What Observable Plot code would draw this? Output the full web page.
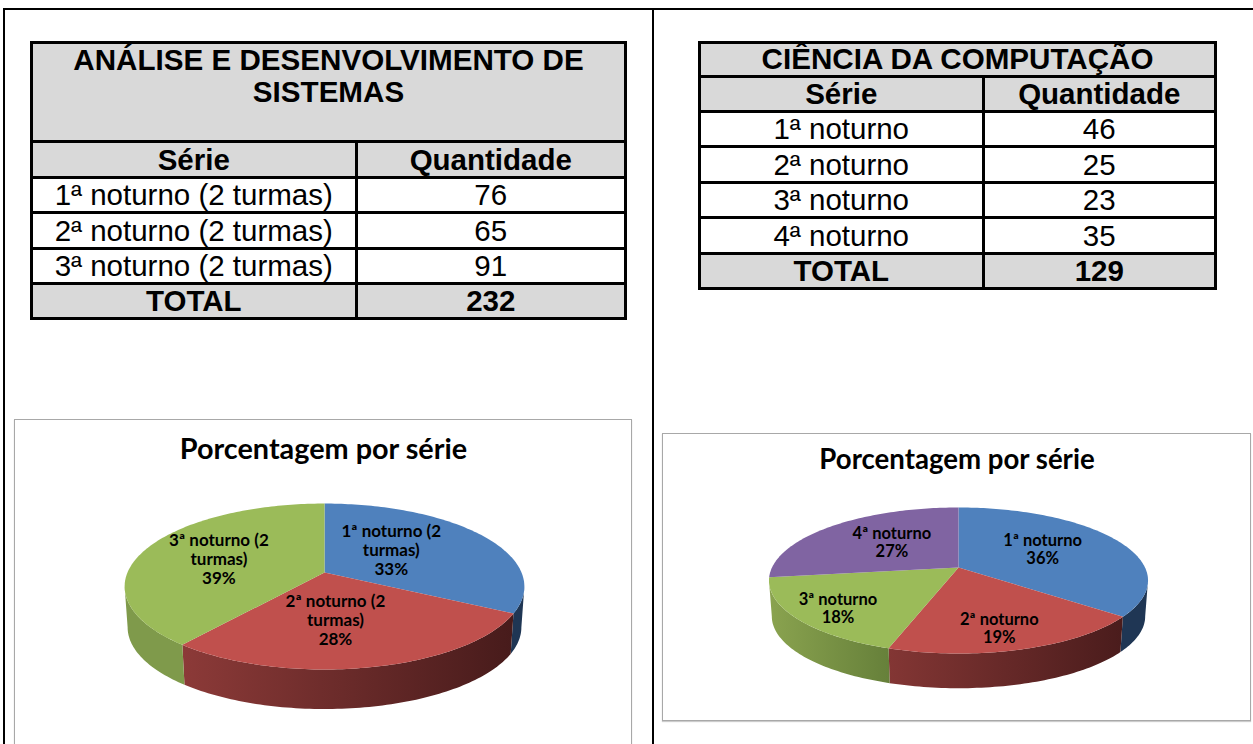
<!DOCTYPE html>
<html lang="pt">
<head>
<meta charset="utf-8">
<script src="https://cdn.jsdelivr.net/npm/d3@7"></script>
<script src="https://cdn.jsdelivr.net/npm/@observablehq/plot@0.6"></script>
<style>
html,body{margin:0;padding:0;background:#fff;width:1253px;height:744px;overflow:hidden;position:relative}
.rule{position:absolute;background:#000}
table{position:absolute;border-collapse:collapse;font-family:"Liberation Sans",Arial,sans-serif;color:#000;table-layout:fixed;border:3px solid #000}
td{border:3px solid #000;padding:0;text-align:center;font-size:29.5px;line-height:1;overflow:hidden}
tr.h td{background:#d9d9d9;font-weight:bold}
td.title{vertical-align:top;padding:0;font-size:29.6px}
.frame{position:absolute;box-sizing:border-box;border:1.5px solid #a8a8a8;background:#fff;box-shadow:0 1px 1px #ccc}
.pie{position:absolute}
.pie svg{display:block;background:transparent;overflow:visible}
</style>
</head>
<body>
<div class="rule" style="left:3px;top:8px;width:1250px;height:2px"></div>
<div class="rule" style="left:3px;top:8px;width:2px;height:736px"></div>
<div class="rule" style="left:652px;top:8px;width:2px;height:736px"></div>
<div id="root"></div>
<script>
// ---- data ----
const adsTitle = "ANÁLISE E DESENVOLVIMENTO DE SISTEMAS";
const adsSeries = ["1ª noturno (2 turmas)", "2ª noturno (2 turmas)", "3ª noturno (2 turmas)"];
const adsValues = [76, 65, 91];
const adsTotal = 232;

const ccTitle = "CIÊNCIA DA COMPUTAÇÃO";
const ccSeries = ["1ª noturno", "2ª noturno", "3ª noturno", "4ª noturno"];
const ccValues = [46, 25, 23, 35];
const ccTotal = 129;

const headers = ["Série", "Quantidade"];
const totalLabel = "TOTAL";
const chartTitle = "Porcentagem por série";

// ---- styling ----
const topColors = ["#4f81bd", "#c0504d", "#9bbb59", "#8064a2"];

const root = d3.select("#root");

function table(o) {
  const t = root.append("table").style("left", o.left + "px").style("top", o.top + "px")
    .style("width", o.width + "px").style("height", o.rows.reduce((a, b) => a + b, 0) + "px");
  const cg = t.append("colgroup");
  o.cols.forEach(c => cg.append("col").style("width", c + "px"));
  let r = 0;
  const row = (cls) => t.append("tr").attr("class", cls).style("height", o.rows[r++] + "px");
  row("h").append("td").attr("colspan", 2).attr("class", "title").style("line-height", o.titleLH + "px").text(o.title);
  const hr = row("h"); headers.forEach(h => hr.append("td").text(h));
  o.series.forEach((s, i) => { const tr = row(""); tr.append("td").text(s); tr.append("td").text(o.values[i]); });
  const f = row("h"); f.append("td").text(totalLabel); f.append("td").text(o.total);
}

table({left: 30, top: 41, width: 594, cols: [324.5, 269.5], rows: [99, 36, 35, 36, 35, 35], titleLH: 32,
  title: adsTitle, series: adsSeries, values: adsValues, total: adsTotal});
table({left: 698, top: 41, width: 516, cols: [283.5, 232.5], rows: [34, 35, 35, 36, 35, 36, 35], titleLH: 30,
  title: ccTitle, series: ccSeries, values: ccValues, total: ccTotal});

function pie(o) {
  root.append("div").attr("class", "frame").style("left", o.left + "px").style("top", o.top + "px")
    .style("width", o.width + "px").style("height", o.frameH + "px");

  const total = d3.sum(o.values);
  const project = (a, shrink = 1, drop = 0) => {
    const u = Math.sin(a), v = -Math.cos(a), s = 1 / (1 - o.k * v);
    return {x: u * s * shrink, y: v * s * shrink + drop};
  };
  const depth = o.depth / o.B;
  // the side wall is only visible between the two silhouette points of the rim
  const silR = Math.acos(-o.k), silL = 2 * Math.PI - silR;
  let acc = 0;
  const slices = o.values.map((val, i) => {
    const a0 = acc / total * 2 * Math.PI; acc += val;
    const a1 = acc / total * 2 * Math.PI;
    return {i, val, a0, a1, name: o.series[i]};
  });
  const arc = (a0, a1) => {
    const n = Math.max(2, Math.ceil((a1 - a0) / 0.02));
    return d3.range(n + 1).map(j => a0 + (a1 - a0) * j / n);
  };
  const topPts = slices.flatMap(s => [{x: 0, y: 0}, ...arc(s.a0, s.a1).map(a => project(a))].map(p => ({...p, s: s.i})));
  const wallPts = slices.flatMap(s => {
    const a0 = Math.max(s.a0, silR), a1 = Math.min(s.a1, silL);
    if (a1 <= a0) return [];
    const as = arc(a0, a1);
    return [...as.map(a => project(a)), ...as.slice().reverse().map(a => project(a, 0.985, depth))].map(p => ({...p, s: s.i}));
  });
  const labels = slices.map((s, i) => {
    const mid = (s.a0 + s.a1) / 2, r = project(mid), t = o.labelAt[i];
    return {x: r.x * t[0], y: r.y * t[1],
      text: s.name.replace(" turmas", "\nturmas") + "\n" + d3.format(".0%")(s.val / total)};
  });
  const defs = () => {
    const d = d3.create("svg:defs");
    o.walls.forEach((w, i) => {
      const g = d.append("linearGradient").attr("id", o.id + "w" + i);
      g.append("stop").attr("offset", "0%").attr("stop-color", w[0]);
      g.append("stop").attr("offset", "100%").attr("stop-color", w[1]);
    });
    return d.node();
  };
  const font = "Lato, Carlito, sans-serif";
  const fig = Plot.plot({
    width: o.width, height: o.height, margin: 0,
    style: {background: "transparent", overflow: "visible"},
    x: {axis: null, domain: [-1, 1], range: [o.cx - o.A, o.cx + o.A]},
    y: {axis: null, domain: [-1, 1], range: [o.cy - o.B, o.cy + o.B]},
    marks: [
      defs,
      ...slices.map(s => Plot.line(wallPts.filter(p => p.s === s.i), {x: "x", y: "y", curve: "linear",
        fill: `url(#${o.id}w${s.i})`, stroke: "none"})),
      ...slices.map(s => Plot.line(topPts.filter(p => p.s === s.i), {x: "x", y: "y", curve: "linear",
        fill: topColors[s.i], stroke: "none"})),
      Plot.text(labels, {x: "x", y: "y", text: "text", fontFamily: font, fontWeight: 700,
        fontSize: o.labelSize, lineHeight: o.labelLH, fill: "#000"}),
      Plot.text([chartTitle], {frameAnchor: "top", dy: o.titleDy, fontFamily: font, fontWeight: 700,
        fontSize: o.titleSize, fill: "#000"})
    ]
  });
  root.append("div").attr("class", "pie").style("left", o.left + "px").style("top", o.top + "px")
    .node().appendChild(fig);
}

pie({id: "a", left: 14, top: 419, width: 618, height: 325, frameH: 345,
  series: adsSeries, values: adsValues,
  cx: 310, cy: 153, A: 197, B: 80.6, k: 0.169, depth: 41,
  walls: [["#1f3654", "#1f3654"], ["#8c3a38", "#471b1b"], ["#7f9a4b", "#7f9a4b"], ["#000", "#000"]],
  labelAt: [[0.43, 0.6], [0.23, 0.5], [0.6, 0.55]],
  labelSize: 17, labelLH: 1.12, titleSize: 28.8, titleDy: 19});
pie({id: "b", left: 662, top: 433, width: 589, height: 288, frameH: 288,
  series: ccSeries, values: ccValues,
  cx: 296, cy: 134, A: 186.5, B: 70.7, k: 0.178, depth: 36,
  walls: [["#1f3654", "#1f3654"], ["#833634", "#4a1c1c"], ["#8aa34f", "#66803a"], ["#5f4a7a", "#5f4a7a"]],
  labelAt: [[0.54, 0.63], [0.63, 0.74], [0.745, 0.8], [0.53, 0.6]],
  labelSize: 16.5, labelLH: 1.1, titleSize: 27.6, titleDy: 16});
</script>
</body>
</html>
